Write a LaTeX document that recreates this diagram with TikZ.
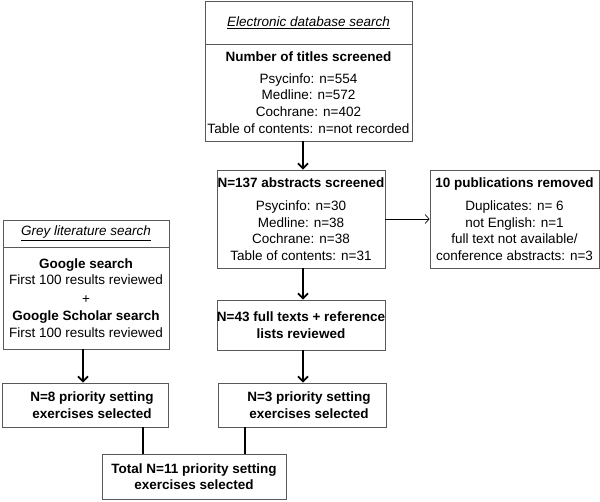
\documentclass[tikz,border=0pt]{standalone}
\usepackage{fontspec}
\setmainfont{Liberation Sans}
\usetikzlibrary{arrows.meta,calc}
\begin{document}
\begin{tikzpicture}[x=1pt,y=-1pt,
  box/.style={draw=black!65, line width=0.9pt, rectangle, inner sep=0pt, align=center,
    font=\fontsize{13.5}{16.6}\selectfont},
  bigarrow/.style={line width=2.2pt, -{Straight Barb[length=5pt,width=10pt,line width=1.8pt]}},
  thinarrow/.style={line width=0.7pt, -{Straight Barb[length=4pt,width=9pt,line width=0.7pt]}},
  joinline/.style={line width=2.2pt}
]
\useasboundingbox (0,0) rectangle (600,501);
% top electronic search
\node[box, minimum width=207pt, minimum height=43pt] (th) at (308.5,22.5) {\underline{\textit{Electronic database search}}};
\node[box, minimum width=207pt, minimum height=97pt] (tb) at (308.5,92.5)
  {\textbf{Number of titles screened}\\[5pt]Psycinfo: n=554\\Medline: n=572\\Cochrane: n=402\\Table of contents: n=not recorded};
% abstracts
\node[box, minimum width=168pt, minimum height=98pt] (ab) at (301,219)
  {\textbf{N=137 abstracts screened}\\[7pt]Psycinfo: n=30\\Medline: n=38\\Cochrane: n=38\\Table of contents: n=31};
% removed
\node[box, minimum width=169pt, minimum height=98pt] (rm) at (514.5,219)
  {\textbf{10 publications removed}\\[7pt]Duplicates: n= 6\\not English: n=1\\full text not available/\\conference abstracts: n=3};
% full texts
\node[box, minimum width=168pt, minimum height=50pt] (ft) at (301,325)
  {\textbf{N=43 full texts + reference}\\\textbf{lists reviewed}};
% N=3
\node[box, minimum width=168pt, minimum height=44pt] (n3) at (302,405)
  {\hspace*{14pt}\textbf{N=3 priority setting}\\\hspace*{14pt}\textbf{exercises selected}};
% grey literature
\node[box, minimum width=166pt, minimum height=27pt] (gh) at (86,233.5) {\underline{\textit{Grey literature search}}};
\node[box, minimum width=166pt, minimum height=102pt] (gb) at (86,298)
  {\textbf{Google search}\\First 100 results reviewed\\[2pt]+\\[1pt]\textbf{Google Scholar search}\\First 100 results reviewed};
% N=8
\node[box, minimum width=166pt, minimum height=44pt] (n8) at (85,405)
  {\hspace*{14pt}\textbf{N=8 priority setting}\\\hspace*{14pt}\textbf{exercises selected}};
% total
\node[box, minimum width=184pt, minimum height=45pt] (tot) at (194,476.5)
  {\textbf{Total N=11 priority setting}\\\textbf{exercises selected}};
% guide coordinates
\coordinate (cx) at (303,0);
\coordinate (gx) at (83,0);
\coordinate (l8) at (143,0);
\coordinate (l3) at (245,0);
\coordinate (ay) at (0,219);
% connectors
\draw[bigarrow] (cx |- tb.south) -- (cx |- ab.north);
\draw[bigarrow] (cx |- ab.south) -- (cx |- ft.north);
\draw[bigarrow] (cx |- ft.south) -- (cx |- n3.north);
\draw[bigarrow] (gx |- gb.south) -- (gx |- n8.north);
\draw[thinarrow] (ab.east |- ay) -- (rm.west |- ay);
\draw[joinline] (l8 |- n8.south) -- (l8 |- tot.north);
\draw[joinline] (l3 |- n3.south) -- (l3 |- tot.north);
\end{tikzpicture}
\end{document}
